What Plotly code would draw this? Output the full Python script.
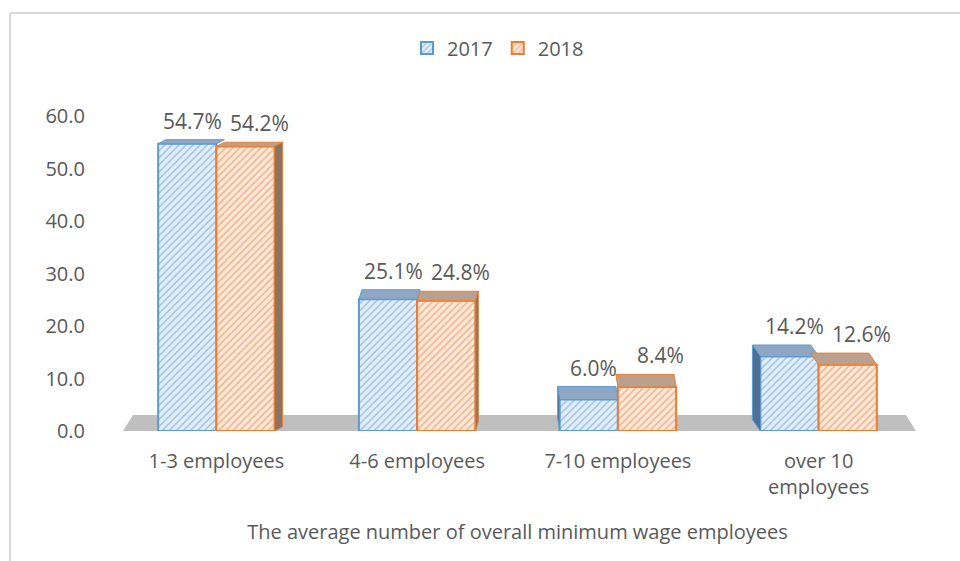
import plotly.graph_objects as go

categories = ["1-3 employees", "4-6 employees", "7-10 employees", "over 10<br>employees"]
values_2017 = [54.7, 25.1, 6.0, 14.2]
values_2018 = [54.2, 24.8, 8.4, 12.6]
series_names = ["2017", "2018"]
y_ticks = [0, 10, 20, 30, 40, 50, 60]
x_title = "The average number of overall minimum wage employees"

W, H = 960, 561
ML, MR, MT, MB = 116, 41, 116, 130
PW, PH = W - ML - MR, H - MT - MB
YMAX = 60
PX_PER_UNIT = PH / YMAX
CAT_PX = PW / len(categories)
BARGAP = 0.42
BW = (1 - BARGAP) / 2  # bar width in category units

FONT = "Open Sans, Liberation Sans, sans-serif"
FS = 20
TXT = "#595959"
BLUE, BLUE_BG = "#5b9bd5", "#e3eef9"
ORANGE, ORANGE_BG = "#ed7d31", "#fce9dc"

fig = go.Figure()
for name, vals, line, bg in [(series_names[0], values_2017, BLUE, BLUE_BG),
                             (series_names[1], values_2018, ORANGE, ORANGE_BG)]:
    fig.add_trace(go.Bar(
        name=name, x=categories, y=vals,
        marker=dict(color=bg, line=dict(color=line, width=2),
                    pattern=dict(shape="/", fgcolor=line, bgcolor=bg, size=5, solidity=0.32)),
        hoverinfo="x+y",
    ))

shapes = []
annotations = []
# floor (gray plane behind the bars)
floor_h = 16 / PX_PER_UNIT
px2paper = lambda px: (px - ML) / PW
shapes.append(dict(type="path", xref="paper", yref="y", layer="below",
                   path=f"M {px2paper(123)},0 L {px2paper(916)},0 L {px2paper(906)},{floor_h} L {px2paper(133)},{floor_h} Z",
                   fillcolor="#bfbfbf", line=dict(width=0)))

# pseudo-3D top and side faces
shift_px = [8, 3, -2, -8]
top_cols = ["#8fa7c2", "#bba18d"]
side_cols = ["#4f6f90", "#8a7464"]
for i in range(len(categories)):
    s = shift_px[i] / CAT_PX
    for k, vals in enumerate([values_2017, values_2018]):
        v = vals[i]
        d = (14 - 0.18 * v) / PX_PER_UNIT
        x0 = i - BW if k == 0 else i
        x1 = x0 + BW
        shapes.append(dict(type="path", xref="x", yref="y", layer="above",
                           path=f"M {x0},{v} L {x1},{v} L {x1 + s},{v + d} L {x0 + s},{v + d} Z",
                           fillcolor=top_cols[k], line=dict(color=[BLUE, ORANGE][k], width=1)))
        if (s > 0 and k == 1) or (s < 0 and k == 0):
            xe = x1 if s > 0 else x0
            shapes.append(dict(type="path", xref="x", yref="y", layer="above",
                               path=f"M {xe},0 L {xe},{v} L {xe + s},{v + d} L {xe + s},{d} Z",
                               fillcolor=side_cols[k], line=dict(color=[BLUE, ORANGE][k], width=1)))
        annotations.append(dict(x=categories[i], y=v, xref="x", yref="y",
                                text=f"{v:.1f}%", showarrow=False, yanchor="bottom",
                                xshift=(-24 if k == 0 else 43), yshift=(14 - 0.18 * v) + 3,
                                font=dict(family=FONT, size=21, color=TXT)))

# chart border lines (top and left)
bx = px2paper(10)
by_top = (H - MB - 13) / PH
by_bot = (H - MB - H) / PH
shapes.append(dict(type="line", xref="paper", yref="paper", x0=bx, x1=bx, y0=by_bot, y1=by_top,
                   line=dict(color="#d9d9d9", width=2)))
shapes.append(dict(type="line", xref="paper", yref="paper", x0=bx, x1=px2paper(W + 5), y0=by_top, y1=by_top,
                   line=dict(color="#d9d9d9", width=2)))

fig.update_layout(
    width=W, height=H,
    margin=dict(l=ML, r=MR, t=MT, b=MB),
    paper_bgcolor="white", plot_bgcolor="white",
    barmode="group", bargap=BARGAP, bargroupgap=0,
    font=dict(family=FONT, size=FS, color=TXT),
    legend=dict(orientation="h", x=px2paper(498), xanchor="center", y=(H - MB - 48) / PH, yanchor="middle",
                font=dict(size=FS, color=TXT), itemwidth=30),
    xaxis=dict(showgrid=False, showline=False, zeroline=False, ticks="outside", ticklen=12,
               tickcolor="rgba(0,0,0,0)", tickfont=dict(size=FS, color=TXT),
               title=dict(text=x_title, standoff=25, font=dict(size=FS, color=TXT))),
    yaxis=dict(range=[0, YMAX], tickvals=y_ticks, tickformat=".1f", showgrid=False, showline=False,
               zeroline=False, ticks="outside", ticklen=26, tickcolor="rgba(0,0,0,0)",
               tickfont=dict(size=FS, color=TXT)),
    shapes=shapes, annotations=annotations,
)

fig.write_html("out.html")
